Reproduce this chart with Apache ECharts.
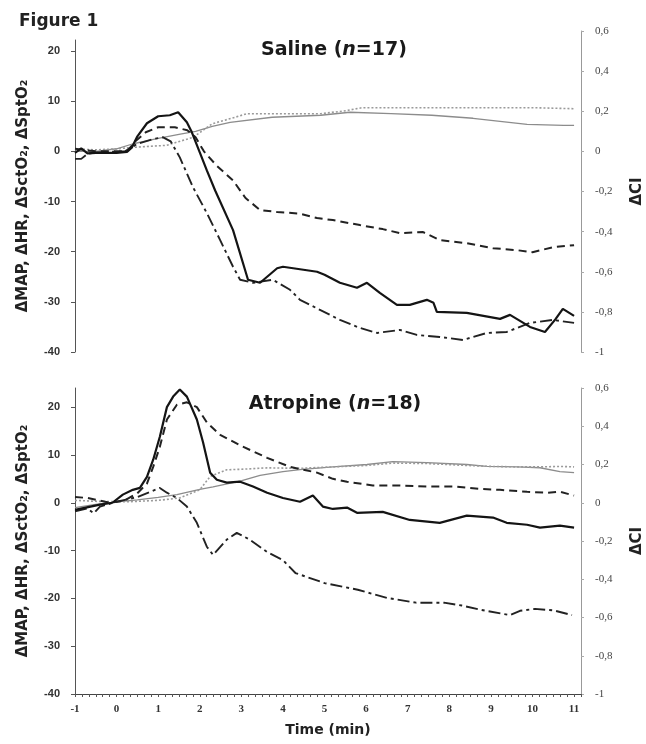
<!DOCTYPE html>
<html>
<head>
<meta charset="utf-8">
<script src="https://cdn.jsdelivr.net/npm/echarts@6/dist/echarts.min.js"></script>
<style>
  html, body { margin: 0; padding: 0; background: #ffffff; }
  #chart { width: 646px; height: 744px; }
</style>
</head>
<body>
<div id="chart"></div>
<script>
// Time axis labels (minutes) and value-axis tick labels
const timeTicks = [-1, 0, 1, 2, 3, 4, 5, 6, 7, 8, 9, 10, 11];
const leftTicks = [-40, -30, -20, -10, 0, 10, 20];
const rightTicks = [-1, -0.8, -0.6, -0.4, -0.2, 0, 0.2, 0.4, 0.6];

// Saline group (n=17): [time (min), change]
const salineHR = [[-1,-0.3],[-0.85,0.6],[-0.7,-0.4],[-0.5,-0.3],[0,-0.3],[0.25,-0.1],[0.37,0.8],[0.5,3],[0.73,5.6],[1.0,7.0],[1.28,7.2],[1.48,7.8],[1.69,5.8],[1.81,3.8],[2.0,-0.2],[2.17,-3.8],[2.37,-7.8],[2.8,-15.7],[3.16,-25.6],[3.45,-26.2],[3.62,-25],[3.86,-23.3],[4.0,-23],[4.41,-23.5],[4.82,-24],[5.0,-24.6],[5.37,-26.2],[5.78,-27.2],[6.02,-26.2],[6.33,-28.2],[6.74,-30.6],[7.05,-30.6],[7.46,-29.6],[7.62,-30.2],[7.7,-32],[8.42,-32.2],[9.22,-33.4],[9.46,-32.6],[9.94,-35],[10.3,-36],[10.55,-33.5],[10.73,-31.4],[11.0,-32.8]];
const salineSctO2 = [[-1,0.5],[-0.5,0],[0,0],[0.25,0],[0.45,2],[0.7,3.8],[1.0,4.8],[1.4,4.8],[1.7,4.2],[1.9,2.8],[2.1,0],[2.4,-2.8],[2.8,-5.8],[3.1,-9.3],[3.45,-11.7],[3.86,-12.1],[4.4,-12.4],[4.82,-13.3],[5.2,-13.7],[5.85,-14.7],[6.4,-15.5],[6.81,-16.3],[7.37,-16.1],[7.77,-17.7],[8.42,-18.3],[9.05,-19.3],[9.63,-19.7],[10.0,-20.1],[10.5,-19.1],[11.0,-18.7]];
const salineMAP = [[-1,-1.5],[-0.85,-1.5],[-0.7,-0.5],[-0.5,-0.2],[0.2,0],[0.5,1.5],[0.9,2.5],[1.12,2.8],[1.3,2],[1.52,-1.2],[1.84,-7.2],[2.17,-12.3],[2.49,-17.7],[2.8,-23],[2.97,-25.6],[3.28,-26.2],[3.76,-25.6],[4.17,-27.6],[4.41,-29.6],[4.89,-31.6],[5.37,-33.6],[5.85,-35.2],[6.26,-36.2],[6.81,-35.6],[7.22,-36.6],[7.77,-37],[8.33,-37.6],[8.9,-36.2],[9.38,-36],[9.94,-34.2],[10.49,-33.6],[11.0,-34.2]];
const salineSptO2 = [[-1,0.5],[-0.5,0.3],[0,0.5],[0.4,0.8],[1.2,1.2],[1.84,2.8],[2.3,5.5],[2.85,6.8],[3.13,7.5],[4.91,7.5],[5.51,8.1],[5.9,8.7],[7,8.7],[8,8.7],[9,8.7],[10.06,8.7],[10.5,8.6],[11,8.5]];
const salineCI = [[-1,0],[-0.5,0],[0,0.013],[0.4,0.038],[1.0,0.065],[1.5,0.085],[1.9,0.1],[2.3,0.125],[2.73,0.145],[3.74,0.17],[4.91,0.18],[5.61,0.195],[6.6,0.188],[7.58,0.18],[8.57,0.165],[9.87,0.135],[10.75,0.13],[11,0.13]];

// Atropine group (n=18): [time (min), change]
const atropineHR = [[-1,-1.5],[-0.4,-0.4],[-0.1,0],[0.15,1.7],[0.39,2.7],[0.56,3.1],[0.73,5.4],[0.88,9],[1.04,13.8],[1.21,20],[1.36,22.2],[1.52,23.7],[1.69,22.2],[1.93,17.4],[2.08,12.6],[2.25,6.3],[2.41,4.8],[2.65,4.2],[2.97,4.4],[3.28,3.4],[3.62,2.1],[4.0,1.0],[4.41,0.2],[4.72,1.5],[4.96,-0.8],[5.2,-1.3],[5.54,-1.0],[5.78,-2.1],[6.4,-1.9],[7.05,-3.6],[7.77,-4.2],[8.42,-2.7],[9.05,-3.1],[9.38,-4.2],[9.87,-4.6],[10.18,-5.2],[10.66,-4.8],[11.0,-5.2]];
const atropineSctO2 = [[-1,1.2],[-0.7,1.0],[-0.16,0],[0.2,0.5],[0.5,2],[0.73,4],[0.88,7.5],[1.04,11.7],[1.21,17.4],[1.45,20.5],[1.69,21],[1.93,20],[2.17,16.8],[2.49,14.2],[2.97,12],[3.62,9.4],[4.17,7.5],[4.82,6.3],[5.2,5],[5.54,4.4],[6.16,3.6],[6.81,3.6],[7.46,3.4],[8.09,3.4],[8.74,2.9],[9.22,2.7],[9.87,2.3],[10.35,2.1],[10.66,2.3],[11.0,1.5]];
const atropineMAP = [[-1,-1.8],[-0.7,-1.2],[-0.55,-2.2],[-0.4,-0.8],[0,0.2],[0.5,1.2],[1.04,3.1],[1.21,2.1],[1.45,1.0],[1.69,-0.8],[1.93,-4.2],[2.17,-9.2],[2.32,-10.9],[2.65,-7.7],[2.89,-6.3],[3.2,-7.7],[3.62,-10.3],[4.0,-12],[4.3,-14.7],[5.0,-16.8],[5.8,-18.2],[6.5,-19.9],[7.2,-20.9],[7.87,-20.9],[8.3,-21.5],[8.76,-22.4],[9.46,-23.5],[9.7,-22.6],[10.06,-22.2],[10.5,-22.5],[10.95,-23.5]];
const atropineSptO2 = [[-1,0.5],[-0.5,0.3],[0.25,0.2],[1.0,0.5],[1.52,1],[2.0,2.7],[2.25,5.5],[2.65,6.9],[3.0,7.0],[3.62,7.3],[4.41,7.2],[5.2,7.5],[6.02,7.8],[6.64,8.3],[7.46,8.2],[8.42,7.8],[9.0,7.6],[9.63,7.5],[10.2,7.5],[10.66,7.6],[11,7.5]];
const atropineCI = [[-1,-0.025],[-0.5,-0.008],[0,0.005],[0.5,0.015],[1.0,0.028],[1.45,0.043],[2.0,0.07],[2.32,0.083],[2.97,0.113],[3.45,0.143],[4.0,0.163],[4.41,0.173],[5.2,0.188],[6.02,0.2],[6.64,0.215],[7.46,0.21],[8.42,0.2],[8.9,0.19],[9.63,0.188],[10.18,0.183],[10.66,0.163],[11,0.158]];

const chart = echarts.init(document.getElementById('chart'), null, { renderer: 'canvas' });

const X_MIN = -1, X_MAX = 67 / 6;          // time axis runs a sixth of a minute past 11
const minorTicks = Array.from({ length: 74 }, (_, i) => -1 + i / 6);
const LEFT_NAME = 'ΔMAP, ΔHR, ΔSctO₂, ΔSptO₂';

const sans = "'Liberation Sans', Arial, sans-serif";
const heading = "'DejaVu Sans', 'Liberation Sans', sans-serif";
const serif = "'Liberation Serif', 'DejaVu Serif', serif";

function xAxisFor(gridIndex, visible) {
  return {
    type: 'value', gridIndex, min: X_MIN, max: X_MAX, show: visible,
    name: visible ? 'Time (min)' : '',
    nameLocation: 'middle', nameGap: 29,
    nameTextStyle: { fontFamily: heading, fontWeight: 'bold', fontSize: 14, color: '#222' },
    axisLine: { show: true, onZero: false, lineStyle: { color: '#444', width: 1 } },
    axisTick: { show: true, customValues: minorTicks, length: 3, inside: false, lineStyle: { color: '#555' } },
    axisLabel: {
      customValues: timeTicks, margin: 10,
      fontFamily: serif, fontWeight: 'bold', fontSize: 11, color: '#333',
      formatter: v => String(Math.round(v))
    },
    splitLine: { show: false }
  };
}

// left axis: -40 at the bottom; top value sets where the axis line stops
function leftAxisFor(gridIndex, top) {
  return {
    type: 'value', gridIndex, position: 'left', min: -40, max: top,
    name: LEFT_NAME, nameLocation: 'middle', nameGap: 44, nameRotate: 90,
    nameTextStyle: { fontFamily: heading, fontWeight: 'bold', fontSize: 15, color: '#222' },
    axisLine: { show: true, onZero: false, lineStyle: { color: '#555', width: 1 } },
    axisTick: { show: true, customValues: leftTicks, length: 4, lineStyle: { color: '#555' } },
    axisLabel: { customValues: leftTicks, margin: 15, fontFamily: sans, fontWeight: 'bold', fontSize: 11, color: '#333' },
    splitLine: { show: false }
  };
}

function rightAxisFor(gridIndex) {
  return {
    type: 'value', gridIndex, position: 'right', min: -1, max: 0.6,
    name: 'ΔCI', nameLocation: 'middle', nameGap: 49, nameRotate: 90,
    nameTextStyle: { fontFamily: heading, fontWeight: 'bold', fontSize: 15, color: '#222' },
    axisLine: { show: true, onZero: false, lineStyle: { color: '#999', width: 1 } },
    axisTick: { show: true, customValues: rightTicks, length: 3, lineStyle: { color: '#aaa' } },
    axisLabel: {
      customValues: rightTicks, margin: 14, fontFamily: serif, fontSize: 11, color: '#444',
      formatter: v => (Math.abs(v) < 1e-9 ? '0' : String(+v.toFixed(1)).replace('.', ','))
    },
    splitLine: { show: false }
  };
}

const styles = {
  hr:   { color: '#141414', width: 2.2, type: 'solid' },
  sct:  { color: '#222222', width: 2.0, type: [8, 5] },
  map:  { color: '#222222', width: 1.9, type: [12, 4, 3, 4] },
  spt:  { color: '#9a9a9a', width: 1.6, type: [2, 2] },
  ci:   { color: '#8c8c8c', width: 1.3, type: 'solid' }
};

function line(name, data, style, xi, yi, z) {
  return {
    type: 'line', name, data, xAxisIndex: xi, yAxisIndex: yi,
    showSymbol: false, symbol: 'none', smooth: false, z,
    lineStyle: { color: style.color, width: style.width, type: style.type },
    emphasis: { disabled: true }
  };
}

const titleRich = {
  b: { fontFamily: heading, fontWeight: 'bold', fontSize: 19, color: '#1a1a1a' },
  i: { fontFamily: heading, fontWeight: 'bold', fontStyle: 'italic', fontSize: 19, color: '#1a1a1a' }
};

function gridBox(top, height) {
  return { left: 75, width: 506, top, height, containLabel: false, outerBoundsMode: 'none' };
}

const option = {
  animation: false,
  backgroundColor: '#ffffff',
  title: [
    { text: 'Figure 1', left: 14, top: 8,
      textStyle: { fontFamily: heading, fontWeight: 'bold', fontSize: 17, color: '#222' } },
    { text: '{b|Saline (}{i|n}{b|=17)}', left: 329, top: 36, textAlign: 'center',
      textStyle: { rich: titleRich } },
    { text: '{b|Atropine (}{i|n}{b|=18)}', left: 330, top: 390, textAlign: 'center',
      textStyle: { rich: titleRich } }
  ],
  grid: [
    gridBox(31, 321),   // upper panel, ΔCI scale (-1 .. 0.6)
    gridBox(388, 306),  // lower panel, both scales
    gridBox(40, 312)    // upper panel, left scale (same pixels per unit, shorter axis line)
  ],
  xAxis: [xAxisFor(0, false), xAxisFor(1, true), xAxisFor(2, false)],
  yAxis: [rightAxisFor(0), leftAxisFor(2, 22.2), leftAxisFor(1, 24), rightAxisFor(1)],
  series: [
    line('ΔCI', salineCI, styles.ci, 0, 0, 2),
    line('ΔSptO₂', salineSptO2, styles.spt, 2, 1, 2),
    line('ΔSctO₂', salineSctO2, styles.sct, 2, 1, 3),
    line('ΔMAP', salineMAP, styles.map, 2, 1, 3),
    line('ΔHR', salineHR, styles.hr, 2, 1, 4),
    line('ΔCI', atropineCI, styles.ci, 1, 3, 2),
    line('ΔSptO₂', atropineSptO2, styles.spt, 1, 2, 2),
    line('ΔSctO₂', atropineSctO2, styles.sct, 1, 2, 3),
    line('ΔMAP', atropineMAP, styles.map, 1, 2, 3),
    line('ΔHR', atropineHR, styles.hr, 1, 2, 4)
  ]
};

chart.setOption(option);
</script>
</body>
</html>
